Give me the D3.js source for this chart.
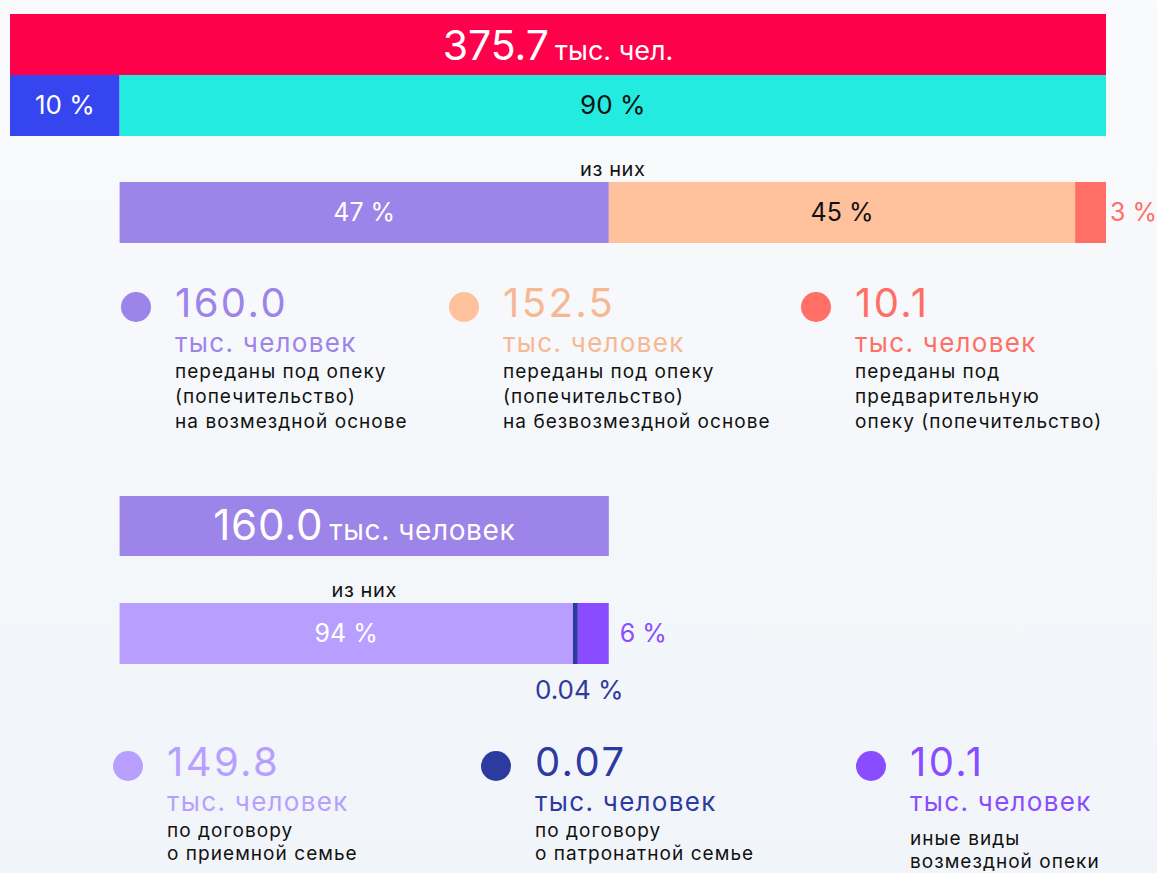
<!DOCTYPE html>
<html><head><meta charset="utf-8">
<script src="https://cdn.jsdelivr.net/npm/d3@7/dist/d3.min.js"></script>
<style>
html,body{margin:0;padding:0;}
body{width:1157px;height:873px;overflow:hidden;background:linear-gradient(#f9fafc,#f1f5f9);}
svg{display:block;font-family:Inter,"Noto Sans",sans-serif;}
</style></head>
<body><svg id="c" width="1157" height="873"></svg>
<script>
// ---- data ----
const totalValue = 375.7;
const totalUnit = "тыс. чел.";
const shareValues = [10, 90];
const shareLabels = ["10 %", "90 %"];
const careValues = [160.0, 152.5, 10.1];
const careLabels = ["47 %", "45 %", "3 %"];
const careNumbers = ["160.0", "152.5", "10.1"];
const careDesc = [
  ["переданы под опеку", "(попечительство)", "на возмездной основе"],
  ["переданы под опеку", "(попечительство)", "на безвозмездной основе"],
  ["переданы под", "предварительную", "опеку (попечительство)"]
];
const paidTotal = 160.0;
const paidValues = [149.8, 0.07, 10.1];
const paidLabels = ["94 %", "0.04 %", "6 %"];
const paidNumbers = ["149.8", "0.07", "10.1"];
const paidDesc = [
  ["по договору", "о приемной семье"],
  ["по договору", "о патронатной семье"],
  ["иные виды", "возмездной опеки"]
];
const unitText = "тыс. человек";
const ofThem = "из них";

// ---- styles ----
const cTotal = "#ff004b", shareColors = ["#3546f0", "#23ebe0"];
const careColors = ["#9d84e9", "#ffc19c", "#ff6f65"];
const careText = ["#9d84e9", "#f6b893", "#ff6f65"];
const paidColors = ["#b89fff", "#2d3a9f", "#8a4cff"];

const svg = d3.select("#c");

// top bar
const xTop = d3.scaleLinear().domain([0, d3.sum(shareValues)]).range([10, 1106]);
const yRow = d3.scaleBand().domain(["total", "share"]).range([14, 136]).padding(0);
svg.append("rect").attr("x", xTop(0)).attr("y", yRow("total"))
  .attr("width", xTop(100) - xTop(0)).attr("height", yRow.bandwidth()).attr("fill", cTotal);
const tt = svg.append("text").attr("x", (xTop(0) + xTop(100)) / 2).attr("y", yRow("total") + 46)
  .attr("text-anchor", "middle").attr("fill", "#fff");
tt.append("tspan").attr("font-size", 41).text(totalValue.toFixed(1));
tt.append("tspan").attr("font-size", 27).attr("dx", 6).text(totalUnit);

const shareStack = d3.cumsum([0, ...shareValues]);
shareValues.forEach((v, i) => {
  const x0 = xTop(shareStack[i]), x1 = xTop(shareStack[i + 1]);
  svg.append("rect").attr("x", x0).attr("y", yRow("share")).attr("width", x1 - x0)
    .attr("height", yRow.bandwidth()).attr("fill", shareColors[i]);
  svg.append("text").attr("x", (x0 + x1) / 2).attr("y", yRow("share") + 39)
    .attr("text-anchor", "middle").attr("font-size", 26)
    .attr("fill", i === 0 ? "#fff" : "#111").text(shareLabels[i]);
});

// middle bar
const xMid = d3.scaleLinear().domain([0, d3.sum(careValues)]).range([xTop(shareStack[1]), xTop(100)]);
const midY = 182, midH = 61;
svg.append("text").attr("x", (xMid.range()[0] + xMid.range()[1]) / 2).attr("y", midY - 6)
  .attr("text-anchor", "middle").attr("font-size", 20).attr("letter-spacing", 0.6)
  .attr("fill", "#111").text(ofThem);
const careStack = d3.cumsum([0, ...careValues]);
careValues.forEach((v, i) => {
  const x0 = xMid(careStack[i]), x1 = xMid(careStack[i + 1]);
  svg.append("rect").attr("x", x0).attr("y", midY).attr("width", x1 - x0)
    .attr("height", midH).attr("fill", careColors[i]);
  const inside = i < 2;
  svg.append("text").attr("x", inside ? (x0 + x1) / 2 : x1 + 4).attr("y", midY + 39)
    .attr("text-anchor", inside ? "middle" : "start").attr("font-size", 25)
    .attr("fill", i === 0 ? "#fff" : i === 1 ? "#111" : careColors[2]).text(careLabels[i]);
});

function legendItem(cx, cy, color, textColor, num, desc, descY, descStep) {
  svg.append("circle").attr("cx", cx).attr("cy", cy).attr("r", 15).attr("fill", color);
  svg.append("text").attr("x", cx + 39).attr("y", cy + 10).attr("font-size", 40)
    .attr("letter-spacing", 2.4).attr("fill", textColor).text(num);
  svg.append("text").attr("x", cx + 39).attr("y", cy + 45).attr("font-size", 26)
    .attr("letter-spacing", 1.3).attr("fill", textColor).text(unitText);
  desc.forEach((line, j) => {
    svg.append("text").attr("x", cx + 39).attr("y", descY + j * descStep).attr("font-size", 19)
      .attr("letter-spacing", 1.05).attr("fill", "#111").text(line);
  });
}

// legend row 1
const legX1 = [136, 464, 816];
careValues.forEach((v, i) => {
  legendItem(legX1[i], 307, careColors[i], careText[i], careNumbers[i], careDesc[i], 378, 25);
});

// bottom bars
const xBot = d3.scaleLinear().domain([0, paidTotal]).range([xMid(0), xMid(careValues[0])]);
const botY = 496, botH = 60;
svg.append("rect").attr("x", xBot(0)).attr("y", botY).attr("width", xBot(paidTotal) - xBot(0))
  .attr("height", botH).attr("fill", careColors[0]);
const bt = svg.append("text").attr("x", (xBot(0) + xBot(paidTotal)) / 2).attr("y", botY + 44)
  .attr("text-anchor", "middle").attr("fill", "#fff");
bt.append("tspan").attr("font-size", 42).attr("letter-spacing", 0.8).text(paidTotal.toFixed(1));
bt.append("tspan").attr("font-size", 28).attr("letter-spacing", 0.6).attr("dx", 6).text(unitText);

const subY = 603, subH = 61;
svg.append("text").attr("x", (xBot(0) + xBot(paidTotal)) / 2).attr("y", subY - 6)
  .attr("text-anchor", "middle").attr("font-size", 20).attr("letter-spacing", 0.6)
  .attr("fill", "#111").text(ofThem);
// segments: tiny segment gets a minimum visible width taken from the first one
const minW = 5;
const ends = d3.cumsum(paidValues).map(xBot);
const x2start = ends[1] - Math.max(minW, ends[1] - ends[0]);
const segs = [
  [xBot(0), x2start],
  [x2start, ends[1]],
  [ends[1], ends[2]]
];
segs.forEach((s, i) => {
  svg.append("rect").attr("x", s[0]).attr("y", subY).attr("width", s[1] - s[0])
    .attr("height", subH).attr("fill", paidColors[i]);
});
svg.append("text").attr("x", (segs[0][0] + segs[0][1]) / 2).attr("y", subY + 39)
  .attr("text-anchor", "middle").attr("font-size", 25).attr("fill", "#fff").text(paidLabels[0]);
svg.append("text").attr("x", (segs[1][0] + segs[1][1]) / 2 + 4).attr("y", subY + 96)
  .attr("text-anchor", "middle").attr("font-size", 26).attr("fill", paidColors[1]).text(paidLabels[1]);
svg.append("text").attr("x", segs[2][1] + 11).attr("y", subY + 39)
  .attr("text-anchor", "start").attr("font-size", 25).attr("fill", paidColors[2]).text(paidLabels[2]);

// legend row 2
const legX2 = [128, 496, 871];
const descY2 = [837, 837, 845];
paidValues.forEach((v, i) => {
  legendItem(legX2[i], 766, paidColors[i], paidColors[i], paidNumbers[i], paidDesc[i], descY2[i], 23);
});
</script></body></html>
